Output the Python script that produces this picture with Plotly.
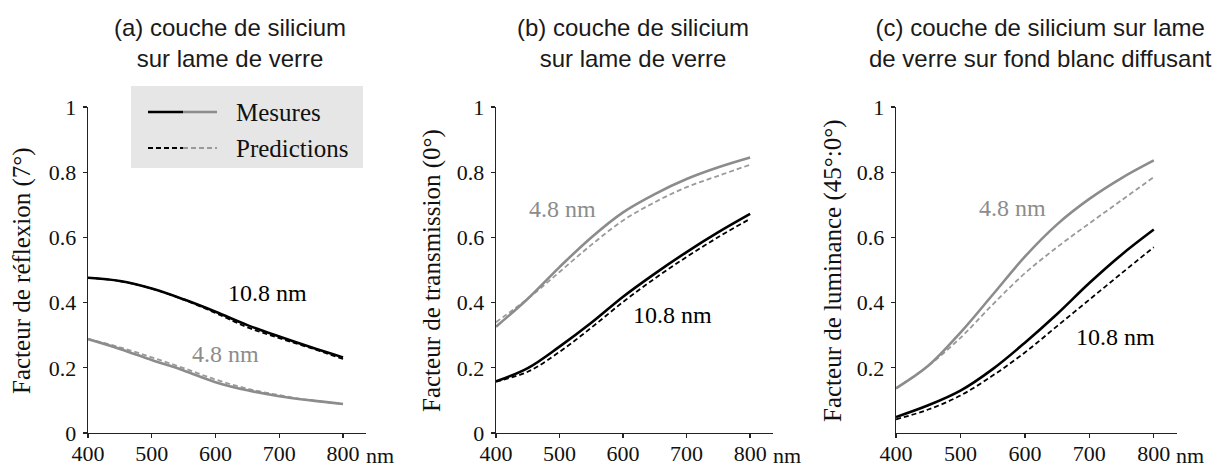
import plotly.graph_objects as go

W, H = 1219, 464

wavelength = [400, 450, 500, 550, 600, 650, 700, 750, 800]

# (a) reflexion
a_meas_108 = [0.476, 0.466, 0.443, 0.410, 0.372, 0.331, 0.296, 0.263, 0.232]
a_pred_108 = [0.476, 0.466, 0.443, 0.409, 0.368, 0.324, 0.291, 0.260, 0.227]
a_meas_48 = [0.288, 0.258, 0.224, 0.192, 0.156, 0.131, 0.113, 0.100, 0.089]
a_pred_48 = [0.288, 0.263, 0.232, 0.199, 0.164, 0.136, 0.116, 0.100, 0.089]

# (b) transmission
b_meas_48 = [0.326, 0.412, 0.509, 0.600, 0.677, 0.733, 0.779, 0.815, 0.845]
b_pred_48 = [0.340, 0.412, 0.494, 0.577, 0.652, 0.708, 0.754, 0.789, 0.823]
b_meas_108 = [0.158, 0.199, 0.265, 0.338, 0.418, 0.489, 0.555, 0.616, 0.672]
b_pred_108 = [0.158, 0.188, 0.249, 0.323, 0.402, 0.474, 0.540, 0.601, 0.657]

# (c) luminance
c_meas_48 = [0.137, 0.206, 0.308, 0.424, 0.541, 0.640, 0.718, 0.782, 0.836]
c_pred_48 = [0.137, 0.206, 0.292, 0.394, 0.490, 0.570, 0.643, 0.714, 0.785]
c_meas_108 = [0.049, 0.085, 0.130, 0.196, 0.277, 0.365, 0.460, 0.547, 0.624]
c_pred_108 = [0.042, 0.072, 0.115, 0.176, 0.247, 0.328, 0.409, 0.490, 0.570]

x_ticks = [400, 500, 600, 700, 800]
x_ticktext = ["400", "500", "600", "700", "800"]
y_ticks_ab = [0, 0.2, 0.4, 0.6, 0.8, 1]
y_ticktext_ab = ["0", "0.2", "0.4", "0.6", "0.8", "1"]
y_ticks_c = [0.2, 0.4, 0.6, 0.8, 1]
y_ticktext_c = ["0.2", "0.4", "0.6", "0.8", "1"]

titles = ["(a) couche de silicium<br>sur lame de verre",
          "(b) couche de silicium<br>sur lame de verre",
          "(c) couche de silicium sur lame<br>de verre sur fond blanc diffusant"]
y_titles = ["Facteur de réflexion (7°)", "Facteur de transmission (0°)",
            "Facteur de luminance (45°:0°)"]
legend_labels = ["Mesures", "Predictions"]
label_48 = "4.8 nm"
label_108 = "10.8 nm"
unit_label = "nm"

BLACK = "#000000"
GRAY = "#8c8c8c"
GRAY_D = "#9a9a9a"
SERIF = "Liberation Serif, Times New Roman, serif"
SANS = "Liberation Sans, Arial, sans-serif"

# panel pixel geometry (left axis x, axis end x)
panels = [(88, 366), (496, 773), (896, 1177)]
y_top_px, y_bot_px = 107, 433

fig = go.Figure()

series = [
    (a_meas_108, a_pred_108, a_meas_48, a_pred_48),
    (b_meas_108, b_pred_108, b_meas_48, b_pred_48),
    (c_meas_108, c_pred_108, c_meas_48, c_pred_48),
]

for i, (m108, p108, m48, p48) in enumerate(series):
    xa = "x" if i == 0 else f"x{i+1}"
    ya = "y" if i == 0 else f"y{i+1}"
    for vals, col, dash, wdt in [(p48, GRAY_D, "5px,3px", 1.8),
                                 (m48, GRAY, "solid", 2.6),
                                 (p108, BLACK, "5px,3px", 1.8),
                                 (m108, BLACK, "solid", 2.6)]:
        fig.add_trace(go.Scatter(x=wavelength, y=vals, mode="lines",
                                 line=dict(color=col, width=wdt, dash=dash, shape="spline", smoothing=1.0),
                                 xaxis=xa, yaxis=ya, showlegend=False, hoverinfo="skip"))

layout = dict(width=W, height=H, margin=dict(l=0, r=0, t=0, b=0, autoexpand=False),
              paper_bgcolor="white", plot_bgcolor="white", showlegend=False)

ydom = [1 - y_bot_px / H, 1 - y_top_px / H]
for i, (x0, x1) in enumerate(panels):
    sx = "" if i == 0 else str(i + 1)
    layout["xaxis" + sx] = dict(domain=[x0 / W, x1 / W], range=[400, 836], anchor="y" + sx,
                                tickvals=x_ticks, ticktext=x_ticktext, ticks="outside",
                                ticklen=4, tickwidth=1.3, tickcolor="#222",
                                showline=True, linecolor="#222", linewidth=1.3,
                                showgrid=False, zeroline=False, automargin=False,
                                ticklabelstandoff=-4,
                                tickfont=dict(family=SERIF, size=22, color="#111"))
    tv = y_ticks_c if i == 2 else y_ticks_ab
    tt = y_ticktext_c if i == 2 else y_ticktext_ab
    layout["yaxis" + sx] = dict(domain=ydom, range=[0, 1], anchor="x" + sx,
                                tickvals=tv, ticktext=tt, ticks="outside",
                                ticklen=4, tickwidth=1.3, tickcolor="#222",
                                showline=True, linecolor="#222", linewidth=1.3,
                                showgrid=False, zeroline=False, automargin=False,
                                ticklabelstandoff=2,
                                tickfont=dict(family=SERIF, size=22, color="#111"))

fig.update_layout(**layout)

ann = []
title_x = [230, 633, 1040]
for i in range(3):
    ann.append(dict(text=titles[i], x=title_x[i] / W, y=1 - 43 / H, xref="paper", yref="paper",
                    showarrow=False, xanchor="center", yanchor="middle",
                    font=dict(family=SANS, size=24, color="#1a1a1a")))
ylab_x = [22, 432, 833]
for i in range(3):
    ann.append(dict(text=y_titles[i], x=ylab_x[i] / W, y=1 - 271 / H, xref="paper", yref="paper",
                    textangle=-90, showarrow=False, xanchor="center", yanchor="middle",
                    font=dict(family=SERIF, size=25, color="#111")))
# "nm" unit after 800
unit_x = [380, 787, 1190]
for i in range(3):
    ann.append(dict(text=unit_label, x=unit_x[i] / W, y=1 - 455 / H, xref="paper", yref="paper",
                    showarrow=False, xanchor="center", yanchor="middle",
                    font=dict(family=SERIF, size=22, color="#111")))

# curve labels (data coords)
lab_pos = [((681, 0.43), (615, 0.242)), ((678, 0.362), (505, 0.687)), ((740, 0.294), (580, 0.69))]
for i, ((x108, y108), (x48, y48)) in enumerate(lab_pos):
    sx = "" if i == 0 else str(i + 1)
    ann.append(dict(text=label_108, x=x108, y=y108, xref="x" + sx, yref="y" + sx, showarrow=False,
                    font=dict(family=SERIF, size=24, color="#000")))
    ann.append(dict(text=label_48, x=x48, y=y48, xref="x" + sx, yref="y" + sx, showarrow=False,
                    font=dict(family=SERIF, size=24, color=GRAY)))

# legend
for txt, yy in zip(legend_labels, [112, 148]):
    ann.append(dict(text=txt, x=234 / W, y=1 - yy / H, xref="paper", yref="paper", showarrow=False,
                    xanchor="left", yanchor="middle", font=dict(family=SERIF, size=25, color="#111")))

shapes = [dict(type="rect", xref="paper", yref="paper", x0=131 / W, x1=363 / W,
               y0=1 - 168 / H, y1=1 - 86 / H, fillcolor="#e6e6e6", line=dict(width=0), layer="below")]
for yy, dash, wdt, gcol in [(112, "solid", 2.6, GRAY), (148, "5px,3px", 1.8, GRAY_D)]:
    shapes.append(dict(type="line", xref="paper", yref="paper", x0=148 / W, x1=183 / W,
                       y0=1 - yy / H, y1=1 - yy / H, line=dict(color=BLACK, width=wdt, dash=dash)))
    shapes.append(dict(type="line", xref="paper", yref="paper", x0=183 / W, x1=217 / W,
                       y0=1 - yy / H, y1=1 - yy / H, line=dict(color=gcol, width=wdt, dash=dash)))

fig.update_layout(annotations=ann, shapes=shapes)
fig.write_html("out.html", config={"displayModeBar": False, "staticPlot": True})

# remove default page margin so the figure sits at the window's top-left corner
with open("out.html", "r", encoding="utf-8") as f:
    html = f.read()
html = html.replace("<head>", "<head><style>html,body{margin:0;padding:0;overflow:hidden;}</style>", 1)
with open("out.html", "w", encoding="utf-8") as f:
    f.write(html)
